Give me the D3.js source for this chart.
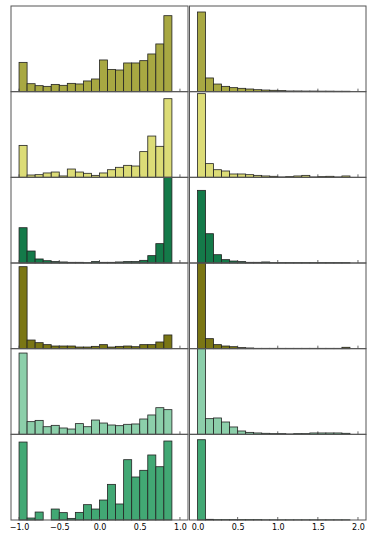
<!DOCTYPE html>
<html>
<head>
<meta charset="utf-8">
<script src="https://cdn.jsdelivr.net/npm/d3@7.9.0/dist/d3.min.js"></script>
<style>
  body { margin: 0; background: #fff; }
  svg { display: block; font-family: "DejaVu Sans", sans-serif; }
</style>
</head>
<body>
<svg id="chart" width="374" height="538"></svg>
<script>
// bin starts (width 0.1)
const leftBins = [-1.0, -0.9, -0.8, -0.7, -0.6, -0.5, -0.4, -0.3, -0.2, -0.1,
  0.0, 0.1, 0.2, 0.3, 0.4, 0.5, 0.6, 0.7, 0.8];
const rightBins = [0.0, 0.1, 0.2, 0.3, 0.4, 0.5, 0.6, 0.7, 0.8, 0.9,
  1.0, 1.1, 1.2, 1.3, 1.4, 1.5, 1.6, 1.7, 1.8];
const binWidth = 0.1;

const leftTicks = [-1.0, -0.5, 0.0, 0.5, 1.0];
const rightTicks = [0.0, 0.5, 1.0, 1.5, 2.0];

// heights as share of each panel's y range
const left1 = [0.342, 0.093, 0.070, 0.062, 0.085, 0.074, 0.097, 0.090, 0.125, 0.148,
  0.370, 0.260, 0.253, 0.335, 0.335, 0.362, 0.440, 0.557, 0.887];
const right1 = [0.930, 0.160, 0.089, 0.062, 0.047, 0.039, 0.031, 0.023, 0.019, 0.016,
  0.012, 0.008, 0.008, 0.007, 0.007, 0.006, 0.006, 0.005, 0.005];

const left2 = [0.373, 0.027, 0.031, 0.051, 0.062, 0.016, 0.097, 0.062, 0.047, 0.023,
  0.051, 0.089, 0.117, 0.140, 0.132, 0.300, 0.482, 0.362, 0.918];
const right2 = [0.977, 0.160, 0.089, 0.074, 0.039, 0.039, 0.031, 0.023, 0.016, 0.012,
  0.004, 0.008, 0.016, 0.023, 0.004, 0.008, 0.012, 0.004, 0.016];

const left3 = [0.412, 0.140, 0.047, 0.027, 0.016, 0.012, 0.008, 0.008, 0.004, 0.016,
  0.008, 0.008, 0.012, 0.016, 0.016, 0.031, 0.086, 0.226, 1.0];
const right3 = [0.848, 0.342, 0.097, 0.039, 0.023, 0.016, 0.008, 0.008, 0.012, 0.004,
  0.004, 0.004, 0.004, 0.004, 0.004, 0.004, 0.004, 0.004, 0.004];

const left4 = [0.957, 0.101, 0.070, 0.047, 0.031, 0.031, 0.031, 0.019, 0.019, 0.027,
  0.047, 0.019, 0.027, 0.031, 0.023, 0.047, 0.047, 0.078, 0.160];
const right4 = [1.0, 0.117, 0.047, 0.031, 0.023, 0.012, 0.008, 0.004, 0.004, 0.004,
  0.004, 0.004, 0.004, 0.004, 0.004, 0.004, 0.004, 0.004, 0.016];

const left5 = [0.949, 0.148, 0.163, 0.089, 0.105, 0.074, 0.062, 0.125, 0.089, 0.167,
  0.132, 0.109, 0.101, 0.117, 0.121, 0.179, 0.226, 0.311, 0.288];
const right5 = [1.0, 0.183, 0.191, 0.144, 0.086, 0.039, 0.023, 0.016, 0.012, 0.008,
  0.008, 0.004, 0.008, 0.008, 0.016, 0.016, 0.016, 0.016, 0.012];

const left6 = [0.910, 0.023, 0.093, 0.0, 0.128, 0.086, 0.019, 0.089, 0.179, 0.128,
  0.233, 0.416, 0.187, 0.704, 0.502, 0.580, 0.759, 0.622, 0.922];
const right6 = [0.937, 0.008, 0.004, 0.004, 0.004, 0.004, 0.004, 0.004, 0.002, 0.002,
  0.002, 0.002, 0.002, 0.002, 0.002, 0.002, 0.002, 0.002, 0.002];

const rowColors = ["#a8a842", "#dcdc77", "#147a49", "#7a7614", "#8ccfaa", "#42a874"];

const leftRows = [left1, left2, left3, left4, left5, left6];
const rightRows = [right1, right2, right3, right4, right5, right6];

const svg = d3.select("#chart");

const gridTop = 6, gridBottom = 520;
const rowHeight = (gridBottom - gridTop) / leftRows.length;

const xLeft = d3.scaleLinear().domain([-1.1, 1.1]).range([11, 188]);
const xRight = d3.scaleLinear().domain([-0.1, 2.1]).range([189.5, 366]);

function drawPanel(x, bins, values, color, row) {
  const y0 = gridTop + row * rowHeight;
  const y = d3.scaleLinear().domain([0, 1]).range([y0 + rowHeight, y0]);
  const g = svg.append("g");

  g.selectAll("rect.bar")
    .data(values)
    .join("rect")
    .attr("class", "bar")
    .attr("x", (d, i) => x(bins[i]))
    .attr("width", (d, i) => x(bins[i] + binWidth) - x(bins[i]))
    .attr("y", (d) => y(d))
    .attr("height", (d) => y(0) - y(d))
    .attr("fill", color)
    .attr("stroke", "#222")
    .attr("stroke-width", 0.8)
    .style("display", (d) => (d > 0 ? null : "none"));

  return { g, y };
}

function drawFrame(x, ticks, row, showLabels) {
  const y0 = gridTop + row * rowHeight;
  const [x0, x1] = x.range();
  const g = svg.append("g");

  // inward ticks at the bottom
  g.selectAll("line.tick")
    .data(ticks)
    .join("line")
    .attr("class", "tick")
    .attr("x1", (d) => x(d))
    .attr("x2", (d) => x(d))
    .attr("y1", y0 + rowHeight)
    .attr("y2", y0 + rowHeight - 3)
    .attr("stroke", "#444")
    .attr("stroke-width", 0.8);

  g.append("rect")
    .attr("x", x0)
    .attr("y", y0)
    .attr("width", x1 - x0)
    .attr("height", rowHeight)
    .attr("fill", "none")
    .attr("stroke", "#555")
    .attr("stroke-width", 1);

  if (showLabels) {
    const axis = d3.axisBottom(x)
      .tickValues(ticks)
      .tickFormat((d) => d3.format(".1f")(d).replace("-", "\u2212"))
      .tickSize(0)
      .tickPadding(4);
    const ax = svg.append("g")
      .attr("transform", `translate(0,${y0 + rowHeight})`)
      .call(axis);
    ax.select(".domain").remove();
    ax.selectAll("text")
      .attr("font-size", 8)
      .attr("font-family", "DejaVu Sans, sans-serif")
      .attr("fill", "#000");
  }
}

leftRows.forEach((vals, r) => drawPanel(xLeft, leftBins, vals, rowColors[r], r));
rightRows.forEach((vals, r) => drawPanel(xRight, rightBins, vals, rowColors[r], r));

leftRows.forEach((vals, r) => drawFrame(xLeft, leftTicks, r, r === leftRows.length - 1));
rightRows.forEach((vals, r) => drawFrame(xRight, rightTicks, r, r === rightRows.length - 1));
</script>
</body>
</html>
